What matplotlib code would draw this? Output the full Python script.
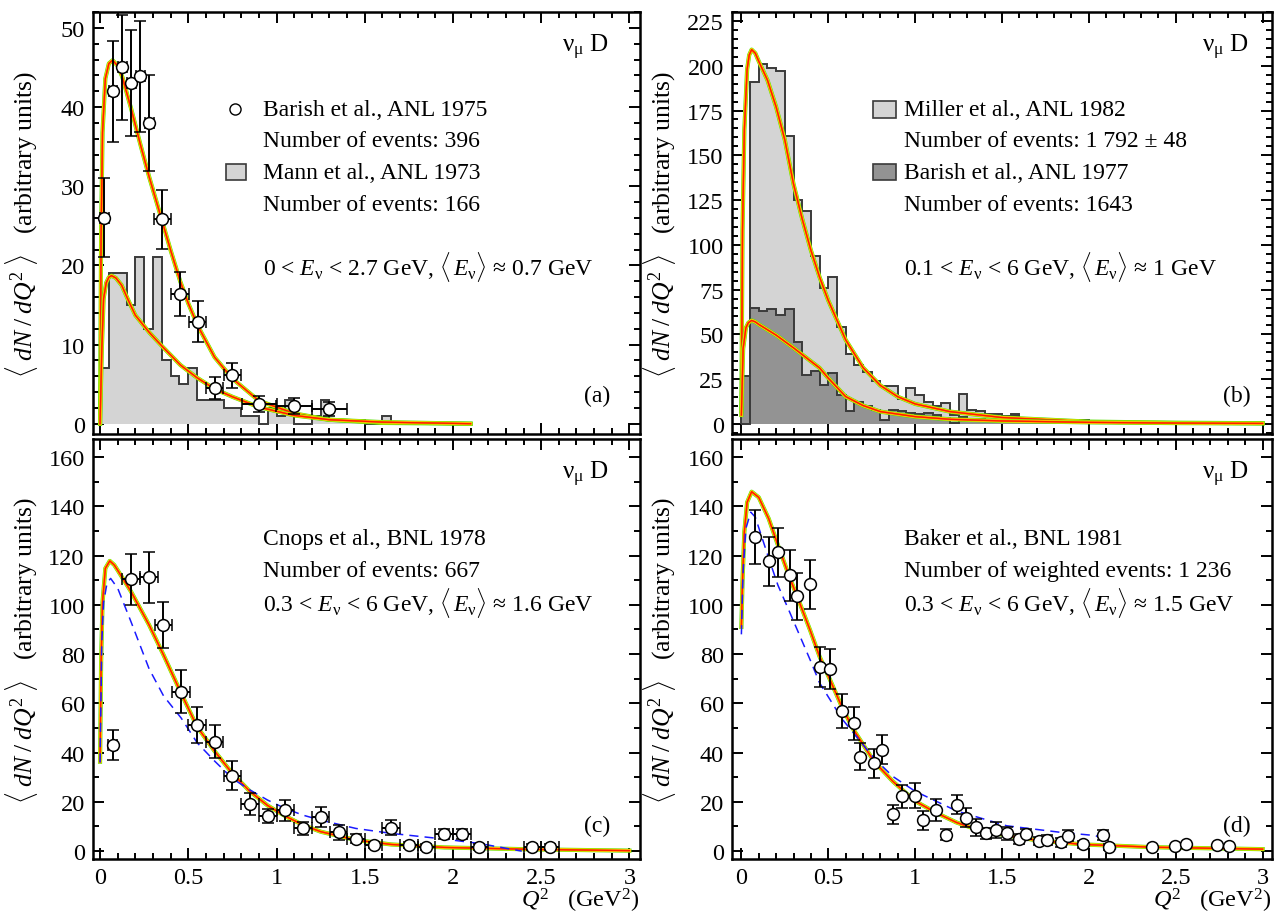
import numpy as np
import matplotlib
matplotlib.use('Agg')
import matplotlib.pyplot as plt
from matplotlib.ticker import MultipleLocator
from matplotlib.patches import Rectangle

plt.rcParams['font.family'] = ['Liberation Serif', 'DejaVu Serif']
plt.rcParams['mathtext.fontset'] = 'custom'
plt.rcParams['mathtext.rm'] = 'Liberation Serif'
plt.rcParams['mathtext.it'] = 'Liberation Serif:italic'
plt.rcParams['mathtext.bf'] = 'Liberation Serif:bold'

# ---------------- data ----------------
# (a) Barish et al., ANL 1975 (points) and Mann et al., ANL 1973 (histogram)
q2_a = [0.024, 0.073, 0.126, 0.176, 0.227, 0.278, 0.353, 0.454, 0.553, 0.649, 0.75, 0.902, 1.099, 1.3]
dn_a = [26, 42, 45, 43, 43.9, 38, 25.8, 16.4, 12.9, 4.5, 6.1, 2.5, 2.2, 1.9]
dn_a_err = [5, 6.4, 6.6, 6.7, 7, 6.1, 3.7, 2.8, 2.6, 1.4, 1.6, 1.0, 1.0, 0.9]
q2_a_err = [0.025, 0.025, 0.025, 0.025, 0.025, 0.025, 0.05, 0.05, 0.05, 0.05, 0.05, 0.1, 0.1, 0.1]
mann_hist = [7, 19, 19, 15, 21, 12, 21, 8, 6, 5, 7, 3, 3, 3, 2, 2, 1, 1, 0, 2, 1, 3,
             0, 0, 1, 3, 0.5, 0.5, 0.5, 0.5, 0, 0, 1]
fit_a_q2 = [0, 0.006, 0.014, 0.03, 0.05, 0.071, 0.1, 0.126, 0.176, 0.227, 0.278, 0.34,
            0.4, 0.454, 0.5, 0.553, 0.649, 0.75, 0.9, 1.1, 1.3, 1.6, 2.1]
fit_a_hi = [0, 24, 36.8, 43.6, 45.5, 45.9, 45.2, 43.8, 39.8, 35.4, 31.2, 26.5,
            21.9, 18.0, 15.2, 12.4, 8.4, 5.7, 2.9, 1.3, 0.5, 0.1, 0]
fit_a_lo_q2 = [0, 0.01, 0.02, 0.035, 0.05, 0.065, 0.09, 0.122, 0.16, 0.2, 0.28, 0.355,
               0.456, 0.55, 0.649, 0.75, 0.9, 1.1, 1.3, 1.6, 2.1]
fit_a_lo = [0, 9.5, 15.8, 17.8, 18.5, 18.7, 18.4, 17.5, 15.6, 13.7, 11.5, 9.7,
            7.4, 5.8, 4.4, 3.4, 2.1, 1.05, 0.5, 0.2, 0]

# (b) Miller et al., ANL 1982 and Barish et al., ANL 1977 (histograms)
miller_hist = [0, 191, 201, 199, 197, 161, 125, 119, 94, 76, 82, 54, 39, 33, 29, 24, 21, 21,
               14, 20, 16, 12, 10, 11.6, 5, 17, 7.9, 7, 5.6, 5.6, 4.3, 4.3, 2.4, 2.4,
               1.9, 1.9, 1.9, 1.3, 1.3, 1.3, 0.9, 0.9, 0.9, 0.9, 0.9, 0.5, 0.5, 0.5, 0.5,
               0.5, 0.4, 0.4, 0.4, 0.4, 0.3, 0.3, 0.3, 0.3, 0.3, 0.3]
barish77_hist = [27, 65, 63, 64, 61, 64, 46, 27.5, 29.4, 22, 28.5, 16, 7, 12, 10, 8, 2, 8,
                 7, 6, 5.5, 6, 5, 3.3, 0.5, 3.7, 2.8, 2.8, 2.4, 2.4, 1.9, 5.6, 1.9, 1.9,
                 1.3, 1.3, 1.3, 1.3, 1.3, 2, 0.9, 0.9, 0.8, 0.7, 0.6, 0.6, 0.5, 0.5, 0.4,
                 0.4, 0.4, 0.3, 0.3, 0.3, 0.3, 0.2, 0.2, 0.2, 0.2, 0.2]
fit_b_q2 = [0, 0.0065, 0.017, 0.033, 0.045, 0.059, 0.08, 0.1, 0.15, 0.2, 0.25, 0.3, 0.35,
            0.4, 0.45, 0.5, 0.6, 0.7, 0.8, 0.9, 1.0, 1.2, 1.5, 2.0, 2.5, 3.0]
fit_b_hi = [7, 108, 164, 198, 206, 209, 207, 202.5, 192, 177, 158.6, 134, 114.5,
            97, 82, 69, 47, 31.5, 21.5, 15.2, 11.2, 6.9, 3.6, 1.3, 0.7, 0.4]
fit_b_lo_q2 = [0, 0.01, 0.026, 0.04, 0.059, 0.08, 0.1, 0.15, 0.2, 0.3, 0.4, 0.45, 0.5,
               0.6, 0.7, 0.8, 1.0, 1.2, 1.5, 2.0, 2.5, 3.0]
fit_b_lo = [5, 42, 53.7, 56.5, 57.8, 57, 55.6, 52.6, 49.6, 42.5, 35, 31.3, 25.6,
            15.3, 10.3, 6.9, 4.1, 2.6, 1.7, 0.9, 0.5, 0.3]

# (c) Cnops et al., BNL 1978
q2_c = [0.071, 0.176, 0.278, 0.359, 0.46, 0.551, 0.649, 0.75, 0.851, 0.953, 1.05, 1.149,
        1.25, 1.352, 1.45, 1.55, 1.65, 1.75, 1.85, 1.95, 2.05, 2.15, 2.45, 2.55]
dn_c = [43, 110.3, 111.1, 91.8, 64.7, 51.2, 44.4, 30.6, 19, 14.3, 16.6, 9.2,
        13.9, 7.6, 5.1, 2.4, 9.5, 2.4, 1.8, 6.8, 6.8, 1.5, 1.5, 1.5]
dn_c_err = [6.2, 10.5, 10.4, 9.5, 8.8, 7.4, 6.8, 5.9, 4.5, 2.8, 4.2, 2.8,
            4, 3, 2, 1.2, 3, 1.2, 1.2, 2, 2, 1.2, 1.2, 1.2]
q2_c_err = [0.025] + [0.05] * 23
fit_c_q2 = [0, 0.006, 0.014, 0.03, 0.055, 0.08, 0.1, 0.176, 0.278, 0.36, 0.46, 0.55, 0.65,
            0.75, 0.85, 0.95, 1.05, 1.15, 1.25, 1.45, 1.65, 1.95, 2.45, 3.0]
fit_c = [36.3, 77, 101, 114.8, 117.8, 116.2, 114, 105.3, 91.8, 79.6, 64, 50.5, 40.5,
         31.5, 24.2, 18.5, 14.2, 10.6, 7.9, 4.5, 2.7, 1.5, 0.7, 0.2]
alt_c_q2 = [0, 0.01, 0.02, 0.04, 0.06, 0.1, 0.176, 0.278, 0.36, 0.46, 0.55, 0.65, 0.75,
            0.85, 0.95, 1.05, 1.15, 1.25, 1.45, 1.65, 1.95, 2.15, 2.39]
alt_c = [36, 85, 101, 109, 110.7, 106.7, 93, 74, 63, 54, 44, 36.5, 29.5,
         24.8, 20.7, 17.3, 14.6, 12.6, 9.2, 7.2, 4.9, 3.1, 0]

# (d) Baker et al., BNL 1981
q2_d = [0.080, 0.157, 0.211, 0.278, 0.32, 0.396, 0.45, 0.511, 0.58, 0.648, 0.685, 0.765,
        0.811, 0.872, 0.924, 1.0, 1.048, 1.12, 1.18, 1.239, 1.291, 1.352, 1.407, 1.467,
        1.526, 1.596, 1.641, 1.711, 1.761, 1.841, 1.88, 1.967, 2.083, 2.115, 2.363,
        2.493, 2.56, 2.74, 2.804]
dn_d = [127.6, 117.6, 121.3, 111.9, 103.5, 108.3, 74.7, 73.9, 56.9, 52, 38.3, 35.6,
        41.2, 14.9, 22.3, 22.5, 12.5, 16.7, 6.7, 18.9, 13.6, 9.6, 7.2, 8.7,
        7.2, 4.9, 6.9, 4, 4.5, 3.6, 6.3, 2.7, 6.7, 1.6, 1.6,
        1.9, 2.9, 2.3, 1.9]
dn_d_err = [11, 10, 10, 10.3, 9.5, 10, 8, 8, 7, 6.7, 5.5, 5.8,
            6, 3.9, 4.7, 5, 3.8, 4.4, 2.3, 3.9, 4, 3.5, 2.3, 3.2,
            2.7, 2.1, 2, 1.7, 2, 1.8, 2.3, 1.5, 2, 1.2, 0,
            0, 0, 0, 0]
fit_d_q2 = [0, 0.0065, 0.017, 0.033, 0.059, 0.1, 0.157, 0.21, 0.278, 0.32, 0.396, 0.45,
            0.51, 0.58, 0.648, 0.765, 0.872, 1.0, 1.12, 1.239, 1.35, 1.526, 1.711, 1.967,
            2.363, 2.74, 3.0]
fit_d = [91, 109.6, 129.6, 141.6, 145.9, 143.6, 135, 124.3, 111, 103.6, 89.6, 79,
         69.6, 58.3, 49, 36.3, 28.3, 20.3, 15.6, 11.6, 8.9, 6.3, 4.3, 2.7,
         1.6, 1.1, 0.8]
alt_d_q2 = [0, 0.01, 0.026, 0.054, 0.08, 0.157, 0.21, 0.278, 0.396, 0.45, 0.58, 0.765,
            0.872, 1.0, 1.239, 1.526, 1.84, 2.04, 2.115, 2.17]
alt_d = [88, 113.6, 131, 137.6, 135.6, 119, 108, 97, 77.6, 68.3, 53.6, 37.6,
         30.3, 24.3, 16.3, 10.3, 7.6, 6.3, 2.9, 0]

bin_width = 0.05

# ---------------- figure ----------------
fig = plt.figure(figsize=(12.86, 9.2), dpi=100)
W, H = 1286., 920.


def box(x0, y0, x1, y1):
    return [x0 / W, 1 - y1 / H, (x1 - x0) / W, (y1 - y0) / H]


ax_a = fig.add_axes(box(93, 13, 640, 435))
ax_b = fig.add_axes(box(732, 13, 1272, 435))
ax_c = fig.add_axes(box(93, 440, 640, 860))
ax_d = fig.add_axes(box(732, 440, 1272, 860))

LIGHT = '#d4d4d4'
DARK = '#939393'
EDGE = '#3a3a3a'
FS = 17


def fit_curve(ax, x, y):
    ax.plot(x, y, color='#55dd00', lw=3.0, zorder=4)
    ax.plot(x, y, color='#ffee00', lw=2.3, zorder=4)
    ax.plot(x, y, color='#ff7000', lw=1.5, zorder=4)
    ax.plot(x, y, color='#ff1a00', lw=0.9, zorder=4)


def points(ax, x, y, yerr, xerr=None):
    ax.errorbar(x, y, yerr=yerr, xerr=xerr, fmt='o', ms=8.5, mfc='white', mec='black',
                mew=1.1, ecolor='black', elinewidth=1.4, capsize=4, capthick=1.4, zorder=6)


def hist(ax, vals, face):
    edges = np.round(np.arange(len(vals) + 1) * bin_width, 3)
    ax.stairs(vals, edges, fill=True, color=face, zorder=2)
    ax.stairs(vals, edges, fill=False, color=EDGE, lw=1.4, zorder=3)


def style(ax, ymaj, ymin, ylim, xlim):
    ax.set_xlim(*xlim)
    ax.set_ylim(*ylim)
    ax.xaxis.set_major_locator(MultipleLocator(0.5))
    ax.xaxis.set_minor_locator(MultipleLocator(0.1))
    ax.yaxis.set_major_locator(MultipleLocator(ymaj))
    ax.yaxis.set_minor_locator(MultipleLocator(ymin))
    ax.tick_params(which='both', direction='in', top=True, right=True, width=1.4,
                   labelsize=17.5, colors='black')
    ax.tick_params(which='major', length=8)
    ax.tick_params(which='minor', length=4.5)
    ax.tick_params(axis='x', pad=6)
    ax.tick_params(axis='y', pad=6)
    for s in ax.spines.values():
        s.set_linewidth(1.8)
    ax.xaxis.set_major_formatter(plt.FuncFormatter(lambda v, p: f'{v:g}'))


TXT = dict(fontsize=FS, va='center', ha='left')
ylab = r'$\langle\; dN\;/\;dQ^2 \;\rangle$   (arbitrary units)'
Ev = r'$E_{\mathrm{ν}}$'
mEv = r'$\langle\, E_{\mathrm{ν}} \rangle$'


def energy(lo, hi, mean):
    return f'{lo} < {Ev} < {hi} GeV, {mEv} ≈ {mean} GeV'


# (a)
hist(ax_a, mann_hist, LIGHT)
fit_curve(ax_a, fit_a_q2, fit_a_hi)
fit_curve(ax_a, fit_a_lo_q2, fit_a_lo)
points(ax_a, q2_a, dn_a, dn_a_err, q2_a_err)
style(ax_a, 10, 2, (-1.3, 52), (-0.04, 3.06))
ax_a.tick_params(labelbottom=False)
ax_a.plot([0.259], [0.769], 'o', ms=8, mfc='white', mec='black', mew=1.0,
          transform=ax_a.transAxes)
ax_a.add_patch(Rectangle((0.243, 0.601), 0.036, 0.039, transform=ax_a.transAxes,
                         facecolor=LIGHT, edgecolor=EDGE, lw=1.2))
ax_a.text(0.31, 0.769, 'Barish et al., ANL 1975', transform=ax_a.transAxes, **TXT)
ax_a.text(0.31, 0.696, 'Number of events: 396', transform=ax_a.transAxes, **TXT)
ax_a.text(0.31, 0.620, 'Mann et al., ANL 1973', transform=ax_a.transAxes, **TXT)
ax_a.text(0.31, 0.545, 'Number of events: 166', transform=ax_a.transAxes, **TXT)
ax_a.text(0.31, 0.399, energy('0', '2.7', '0.7'), transform=ax_a.transAxes, **TXT)
ax_a.text(0.945, 0.092, '(a)', transform=ax_a.transAxes, fontsize=FS, ha='right', va='center')

# (b)
hist(ax_b, miller_hist, LIGHT)
hist(ax_b, barish77_hist, DARK)
fit_curve(ax_b, fit_b_q2, fit_b_hi)
fit_curve(ax_b, fit_b_lo_q2, fit_b_lo)
style(ax_b, 25, 5, (-5.6, 230), (-0.054, 3.054))
ax_b.tick_params(labelbottom=False)
ax_b.add_patch(Rectangle((0.262, 0.750), 0.042, 0.039, transform=ax_b.transAxes,
                         facecolor=LIGHT, edgecolor=EDGE, lw=1.2))
ax_b.add_patch(Rectangle((0.262, 0.601), 0.042, 0.039, transform=ax_b.transAxes,
                         facecolor=DARK, edgecolor=EDGE, lw=1.2))
ax_b.text(0.318, 0.769, 'Miller et al., ANL 1982', transform=ax_b.transAxes, **TXT)
ax_b.text(0.318, 0.696, 'Number of events: 1 792 ± 48', transform=ax_b.transAxes, **TXT)
ax_b.text(0.318, 0.620, 'Barish et al., ANL 1977', transform=ax_b.transAxes, **TXT)
ax_b.text(0.318, 0.545, 'Number of events: 1643', transform=ax_b.transAxes, **TXT)
ax_b.text(0.318, 0.399, energy('0.1', '6', '1'), transform=ax_b.transAxes, **TXT)
ax_b.text(0.96, 0.092, '(b)', transform=ax_b.transAxes, fontsize=FS, ha='right', va='center')

# (c)
fit_curve(ax_c, fit_c_q2, fit_c)
ax_c.plot(alt_c_q2, alt_c, color='#1a1aff', lw=1.1, ls=(0, (6, 4)), zorder=5)
points(ax_c, q2_c, dn_c, dn_c_err, q2_c_err)
style(ax_c, 20, 10, (-3.2, 167.3), (-0.04, 3.06))
ax_c.text(0.31, 0.763, 'Cnops et al., BNL 1978', transform=ax_c.transAxes, **TXT)
ax_c.text(0.31, 0.686, 'Number of events: 667', transform=ax_c.transAxes, **TXT)
ax_c.text(0.31, 0.612, energy('0.3', '6', '1.6'), transform=ax_c.transAxes, **TXT)
ax_c.text(0.945, 0.079, '(c)', transform=ax_c.transAxes, fontsize=FS, ha='right', va='center')

# (d)
fit_curve(ax_d, fit_d_q2, fit_d)
ax_d.plot(alt_d_q2, alt_d, color='#1a1aff', lw=1.1, ls=(0, (6, 4)), zorder=5)
points(ax_d, q2_d, dn_d, dn_d_err)
style(ax_d, 20, 10, (-3.2, 167.3), (-0.054, 3.054))
ax_d.text(0.318, 0.763, 'Baker et al., BNL 1981', transform=ax_d.transAxes, **TXT)
ax_d.text(0.318, 0.686, 'Number of weighted events: 1 236', transform=ax_d.transAxes, **TXT)
ax_d.text(0.318, 0.612, energy('0.3', '6', '1.5'), transform=ax_d.transAxes, **TXT)
ax_d.text(0.96, 0.079, '(d)', transform=ax_d.transAxes, fontsize=FS, ha='right', va='center')

for ax in (ax_a, ax_b, ax_c, ax_d):
    ax.text(0.943 if ax in (ax_a, ax_c) else 0.957, 0.918, r'ν$_{\mathrm{μ}}$ D',
            transform=ax.transAxes, fontsize=18, ha='right', va='center')

for ax in (ax_c, ax_d):
    ax.text(0.998, -0.098, r'$Q^2$   (GeV$^2$)', transform=ax.transAxes, fontsize=17.5,
            ha='right', va='center')

for ax, xpix in ((ax_a, 22), (ax_c, 22), (ax_b, 660), (ax_d, 660)):
    pos = ax.get_position()
    fig.text(xpix / W, pos.y0 + pos.height * 0.5, ylab, rotation=90, fontsize=18.5,
             ha='center', va='center')

fig.savefig('out.png', dpi=100)
